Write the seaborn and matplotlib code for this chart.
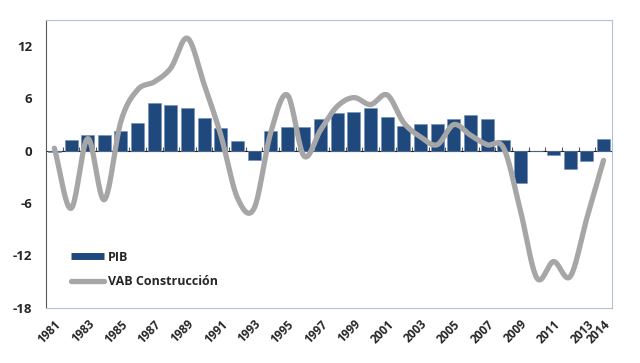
import numpy as np
import pandas as pd
import matplotlib
matplotlib.use("Agg")
import matplotlib.pyplot as plt
from matplotlib.lines import Line2D
import seaborn as sns

# datos
anios = list(range(1981, 2015))
pib = [-0.1, 1.2, 1.8, 1.8, 2.3, 3.2, 5.5, 5.2, 4.9, 3.8, 2.6, 1.1, -1.0, 2.3,
       2.7, 2.7, 3.7, 4.3, 4.5, 4.9, 3.9, 2.9, 3.1, 3.1, 3.7, 4.1, 3.7, 1.2,
       -3.7, 0.0, -0.5, -2.1, -1.2, 1.4]
vab_construccion = [0.3, -6.6, 1.4, -5.6, 3.4, 7.0, 7.9, 9.5, 12.9, 7.6, 1.8,
                    -5.4, -6.6, 2.1, 6.4, -0.6, 2.4, 5.1, 6.1, 5.3, 6.4, 3.2,
                    1.6, 0.7, 3.0, 1.8, 0.7, 0.3, -6.8, -14.6, -12.7, -14.4,
                    -7.7, -1.1]
etiquetas = [str(a) if (a - 1981) % 2 == 0 or a == 2014 else "" for a in anios]

AZUL = "#1F497D"
GRIS = "#A6A6A6"

df = pd.DataFrame({"anio": [str(a) for a in anios], "pib": pib})


def suavizar(x, y, n=20):
    # curva suavizada tipo Excel (Catmull-Rom) que pasa por los puntos
    x = np.asarray(x, float)
    y = np.asarray(y, float)
    px = np.concatenate([[2 * x[0] - x[1]], x, [2 * x[-1] - x[-2]]])
    py = np.concatenate([[2 * y[0] - y[1]], y, [2 * y[-1] - y[-2]]])
    xs, ys = [], []
    t = np.linspace(0, 1, n, endpoint=False)
    for i in range(1, len(px) - 2):
        for arr, out in ((px, xs), (py, ys)):
            p0, p1, p2, p3 = arr[i - 1], arr[i], arr[i + 1], arr[i + 2]
            out.extend(0.5 * (2 * p1 + (-p0 + p2) * t
                              + (2 * p0 - 5 * p1 + 4 * p2 - p3) * t ** 2
                              + (-p0 + 3 * p1 - 3 * p2 + p3) * t ** 3))
    xs.append(x[-1])
    ys.append(y[-1])
    return np.array(xs), np.array(ys)


sns.set_style("white")
plt.rcParams["font.family"] = ["Open Sans", "DejaVu Sans"]
plt.rcParams["axes.unicode_minus"] = False

fig = plt.figure(figsize=(6.4, 3.63), dpi=100)
ax = fig.add_axes([0.072, 0.152, 0.884, 0.793])

sns.barplot(data=df, x="anio", y="pib", color=AZUL, saturation=1,
            width=0.78, edgecolor="#6F8FBF", linewidth=0.4, ax=ax, zorder=2)

xs, ys = suavizar(np.arange(len(anios)), vab_construccion)
ax.plot(xs, ys, color=GRIS, lw=3.8, solid_capstyle="round",
        solid_joinstyle="round", zorder=3)

ax.set_xlim(-0.5, len(anios) - 0.5)
ax.set_ylim(-18, 15)
ax.set_yticks([-18, -12, -6, 0, 6, 12])
ax.set_xticks(range(len(anios)))
ax.set_xticklabels(etiquetas, rotation=45, ha="right", rotation_mode="anchor",
                   fontsize=8.5, fontweight="bold", color="#262626")
ax.tick_params(axis="x", length=0, pad=7)
ax.tick_params(axis="y", length=4, width=0.8, color="#595959", direction="out",
               labelsize=9.5, labelcolor="#262626", pad=6)
for lbl in ax.get_yticklabels():
    lbl.set_fontweight("bold")
ax.set_xlabel("")
ax.set_ylabel("")

for s in ["top", "right", "bottom"]:
    ax.spines[s].set_color("#B4C0D4")
    ax.spines[s].set_linewidth(0.8)
ax.spines["left"].set_color("#595959")
ax.spines["left"].set_linewidth(0.8)

# eje horizontal en el cero con marcas entre categorias
eje0 = ax.secondary_xaxis(18 / 33)
eje0.set_xticks(np.arange(0.5, len(anios) - 1, 1))
eje0.set_xticklabels([])
eje0.tick_params(length=3, width=0.8, color="#595959", direction="out")
eje0.spines["bottom"].set_color("#595959")
eje0.spines["bottom"].set_linewidth(0.9)

handles = [Line2D([0], [0], color=AZUL, lw=5, solid_capstyle="butt"),
           Line2D([0], [0], color=GRIS, lw=3.8, solid_capstyle="round")]
leg = ax.legend(handles, ["PIB", "VAB Construcción"], loc="lower left",
                bbox_to_anchor=(0.025, 0.03), frameon=False, handlelength=2.6,
                handletextpad=0.3, labelspacing=0.9,
                prop={"size": 9, "weight": "bold"})
for t in leg.get_texts():
    t.set_color("#262626")

fig.savefig("out.png", dpi=100)
